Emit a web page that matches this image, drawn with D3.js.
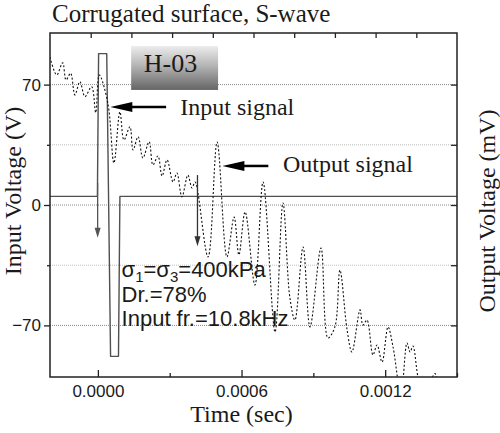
<!DOCTYPE html>
<html>
<head>
<meta charset="utf-8">
<script src="https://cdn.jsdelivr.net/npm/d3@7"></script>
<style>
  body { margin: 0; background: #fff; }
  svg { display: block; }
</style>
</head>
<body>
<div id="chart"></div>
<script>
// Margins (plot frame)
let margin = {top: 33, right: 43, bottom: 56, left: 50},
    width = 500 - margin.left - margin.right,
    height = 433 - margin.top - margin.bottom;

// input pulse (time in microseconds, volts)
const inputTimeUs = [-200, -2, 3, 37, 53, 86, 92, 1500];
const inputVolt   = [5, 5, 88, 88, -88, -88, 5, 5];

// output signal (time in microseconds, left-axis units)
const outputTimeUs = [-200, -172, -147, -133, -114, -96, -75, -54, -26, -9, 6, 42, 67, 92, 109, 134, 147, 168, 188,
    214, 230, 251, 268, 289, 314, 330, 351, 376, 393, 406, 460, 498, 539, 569, 589, 615, 656, 690, 740,
    773, 802, 823, 857, 886, 932, 961, 990, 1011, 1041, 1061, 1095, 1107, 1124, 1149, 1166, 1187, 1212,
    1233, 1266, 1291, 1304, 1316, 1337, 1362, 1387, 1408, 1429];
const outputValue = [86, 75.6, 82.7, 72.7, 76.6, 64, 71.7, 63, 68.8, 53.7, 75.6, 59, 24.4, 54.2, 37.8, 45.5, 32, 39.7, 27.3,
    36.8, 23.3, 28.5, 16.9, 26.2, 13.4, 18.6, 4.7, 17.4, 9.9, 13.4, -30.2, 36.6, -30.2, -7, -29, -4, -46.5, 13.4, -73.8,
    1.2, -54, -66.9, -24.4, -70.9, -25, -77.3, -70.9, -37.8, -72.7, -85.5, -61, -69.8, -66.9, -87.2, -81.4, -91.3, -70.9,
    -82.6, -110, -80.2, -85.5, -82, -100, -112, -104, -98, -112];

// axis ticks
const xMajor = [0, 0.0006, 0.0012];
const xMinor = [0.0003, 0.0009, 0.0015];
const yMajor = [-70, 0, 70];
const yMinor = [-35, 35];
const topTicks = [1, 2, 3, 4, 5, 6, 7, 8, 9];

const conditions = ['=400kPa', 'Dr.=78%', 'Input fr.=10.8kHz'];

const serif = '"Liberation Serif", "Times New Roman", serif';
const sans = '"Liberation Sans", Arial, sans-serif';

const svg = d3.select('#chart')
    .append('svg')
    .attr('width', 500)
    .attr('height', 433);

const defs = svg.append('defs');
defs.append('clipPath').attr('id', 'plotclip')
    .append('rect')
    .attr('x', margin.left).attr('y', margin.top)
    .attr('width', width).attr('height', height);

let grad = defs.append('linearGradient').attr('id', 'boxgrad')
    .attr('x1', 0).attr('y1', 0).attr('x2', 0).attr('y2', 1);
grad.append('stop').attr('offset', '0%').attr('stop-color', '#ececec');
grad.append('stop').attr('offset', '45%').attr('stop-color', '#b4b4b4');
grad.append('stop').attr('offset', '100%').attr('stop-color', '#656565');

// SCALES
let x = d3.scaleLinear()
    .domain([-0.0002, 0.0015])
    .range([margin.left, margin.left + width]);

let y = d3.scaleLinear()
    .domain([-100, 100])
    .range([margin.top + height, margin.top]);

// right axis (mV), no labels, same placement
let yRight = d3.scaleLinear()
    .domain([-100, 100])
    .range([margin.top + height, margin.top]);

let xTop = d3.scaleLinear()
    .domain([0, 10])
    .range([margin.left, margin.left + width]);

// GRID
svg.append('g').selectAll('line')
    .data(yMajor.concat(yMinor)).enter()
    .append('line')
    .attr('x1', margin.left).attr('x2', margin.left + width)
    .attr('y1', d => y(d)).attr('y2', d => y(d))
    .attr('stroke', d => yMajor.includes(d) ? '#8a8a8a' : '#bdbdbd')
    .attr('stroke-width', 1)
    .attr('stroke-dasharray', '1,1');

// LINES
let inputData = inputTimeUs.map((t, i) => ({t: t * 1e-6, v: inputVolt[i]}));
let outputData = outputTimeUs.map((t, i) => ({t: t * 1e-6, v: outputValue[i]}));

let inputLine = d3.line()
    .x(d => x(d.t))
    .y(d => y(d.v));

let outputLine = d3.line()
    .x(d => x(d.t))
    .y(d => yRight(d.v))
    .curve(d3.curveCatmullRom.alpha(0.5));

let plot = svg.append('g').attr('clip-path', 'url(#plotclip)');

plot.append('path')
    .datum(inputData)
    .attr('fill', 'none')
    .attr('stroke', '#505050')
    .attr('stroke-width', 1.4)
    .attr('stroke-linejoin', 'round')
    .attr('d', inputLine);

plot.append('path')
    .datum(outputData)
    .attr('fill', 'none')
    .attr('stroke', '#111')
    .attr('stroke-width', 1.1)
    .attr('stroke-dasharray', '2,2')
    .attr('d', outputLine);

// onset arrows (thin, vertical)
function thinArrow(t, v0, v1, color) {
    let xp = x(t), ya = y(v0), yb = y(v1);
    svg.append('line')
        .attr('x1', xp).attr('x2', xp)
        .attr('y1', ya).attr('y2', yb - 8)
        .attr('stroke', color).attr('stroke-width', 1.3);
    svg.append('path')
        .attr('d', 'M' + (xp - 3) + ',' + (yb - 10) + 'L' + (xp + 3) + ',' + (yb - 10) + 'L' + xp + ',' + yb + 'Z')
        .attr('fill', color);
}
thinArrow(-1e-6, 12.8, -19, '#555');
thinArrow(416e-6, 17.4, -24, '#333');

// label arrows (thick, pointing left)
function bigArrow(tTip, tTail, v) {
    let xt = x(tTip), xe = x(tTail), yp = y(v);
    svg.append('line')
        .attr('x1', xt + 20).attr('x2', xe)
        .attr('y1', yp).attr('y2', yp)
        .attr('stroke', '#000').attr('stroke-width', 2.5);
    svg.append('path')
        .attr('d', 'M' + xt + ',' + yp + 'L' + (xt + 22) + ',' + (yp - 5) + 'L' + (xt + 22) + ',' + (yp + 5) + 'Z')
        .attr('fill', '#000');
}
bigArrow(52e-6, 285e-6, 57);
bigArrow(520e-6, 712e-6, 22.7);

svg.append('text')
    .attr('x', x(344e-6)).attr('y', y(52.3))
    .style('font-family', serif).style('font-size', '24px').attr('fill', '#1a1a1a')
    .text('Input signal');

svg.append('text')
    .attr('x', x(773e-6)).attr('y', y(19.2))
    .style('font-family', serif).style('font-size', '24px').attr('fill', '#1a1a1a')
    .text('Output signal');

// H-03 box
svg.append('rect')
    .attr('x', x(139e-6)).attr('y', y(92.4))
    .attr('width', x(502e-6) - x(139e-6))
    .attr('height', y(66.9) - y(92.4))
    .attr('fill', 'url(#boxgrad)');

svg.append('text')
    .attr('x', x(303e-6)).attr('y', y(77.3))
    .attr('text-anchor', 'middle')
    .style('font-family', serif).style('font-size', '26px').attr('fill', '#1a1a1a')
    .text('H-03');

// test conditions
let cond = svg.append('g')
    .style('font-family', sans).style('font-size', '22px').attr('fill', '#1a1a1a');

let c1 = cond.append('text').attr('x', x(99e-6)).attr('y', y(-41.7));
c1.append('tspan').text('σ');
c1.append('tspan').attr('dy', 5).style('font-size', '15px').text('1');
c1.append('tspan').attr('dy', -5).text('=σ');
c1.append('tspan').attr('dy', 5).style('font-size', '15px').text('3');
c1.append('tspan').attr('dy', -5).text(conditions[0]);

cond.append('text').attr('x', x(99e-6)).attr('y', y(-56.2)).text(conditions[1]);
cond.append('text').attr('x', x(99e-6)).attr('y', y(-70.2)).text(conditions[2]);

// AXES
let xAxis = d3.axisBottom(x).tickValues(xMajor).tickSize(-7).tickPadding(8)
    .tickFormat(d3.format('.4f'));
let gX = svg.append('g')
    .attr('transform', 'translate(0,' + (margin.top + height) + ')')
    .call(xAxis);
svg.append('g')
    .attr('transform', 'translate(0,' + (margin.top + height) + ')')
    .call(d3.axisBottom(x).tickValues(xMinor).tickSize(-4).tickFormat(''));

let yAxis = d3.axisLeft(y).tickValues(yMajor).tickSize(6).tickPadding(3)
    .tickFormat(d3.format('d'));
let gY = svg.append('g')
    .attr('transform', 'translate(' + margin.left + ',0)')
    .call(yAxis);
svg.append('g')
    .attr('transform', 'translate(' + margin.left + ',0)')
    .call(d3.axisLeft(y).tickValues(yMinor).tickSize(3).tickFormat(''));

svg.append('g')
    .attr('transform', 'translate(' + (margin.left + width) + ',0)')
    .call(d3.axisRight(yRight).tickValues(yMajor.concat(yMinor)).tickSize(-6).tickFormat(''));

svg.append('g')
    .attr('transform', 'translate(0,' + margin.top + ')')
    .call(d3.axisTop(xTop).tickValues(topTicks).tickSize(-5).tickFormat(''));

svg.selectAll('.domain').remove();
svg.selectAll('.tick line').attr('stroke', '#222').attr('stroke-width', 1.3);
svg.selectAll('.tick text')
    .style('font-family', sans).style('font-size', '17px').attr('fill', '#1a1a1a');

// frame
svg.append('rect')
    .attr('x', margin.left).attr('y', margin.top)
    .attr('width', width).attr('height', height)
    .attr('fill', 'none').attr('stroke', '#222').attr('stroke-width', 1.5);

// titles
svg.append('text')
    .attr('x', 52).attr('y', 22)
    .style('font-family', serif).style('font-size', '25px').attr('fill', '#1a1a1a')
    .text('Corrugated surface, S-wave');

svg.append('text')
    .attr('x', margin.left + width / 2 - 12).attr('y', 422)
    .attr('text-anchor', 'middle')
    .style('font-family', serif).style('font-size', '24px').attr('fill', '#1a1a1a')
    .text('Time (sec)');

svg.append('text')
    .attr('transform', 'translate(21,191) rotate(-90)')
    .attr('text-anchor', 'middle')
    .style('font-family', serif).style('font-size', '24px').attr('fill', '#1a1a1a')
    .text('Input Voltage (V)');

svg.append('text')
    .attr('transform', 'translate(495,211) rotate(-90)')
    .attr('text-anchor', 'middle')
    .style('font-family', serif).style('font-size', '24px').attr('fill', '#1a1a1a')
    .text('Output Voltage (mV)');
</script>
</body>
</html>
